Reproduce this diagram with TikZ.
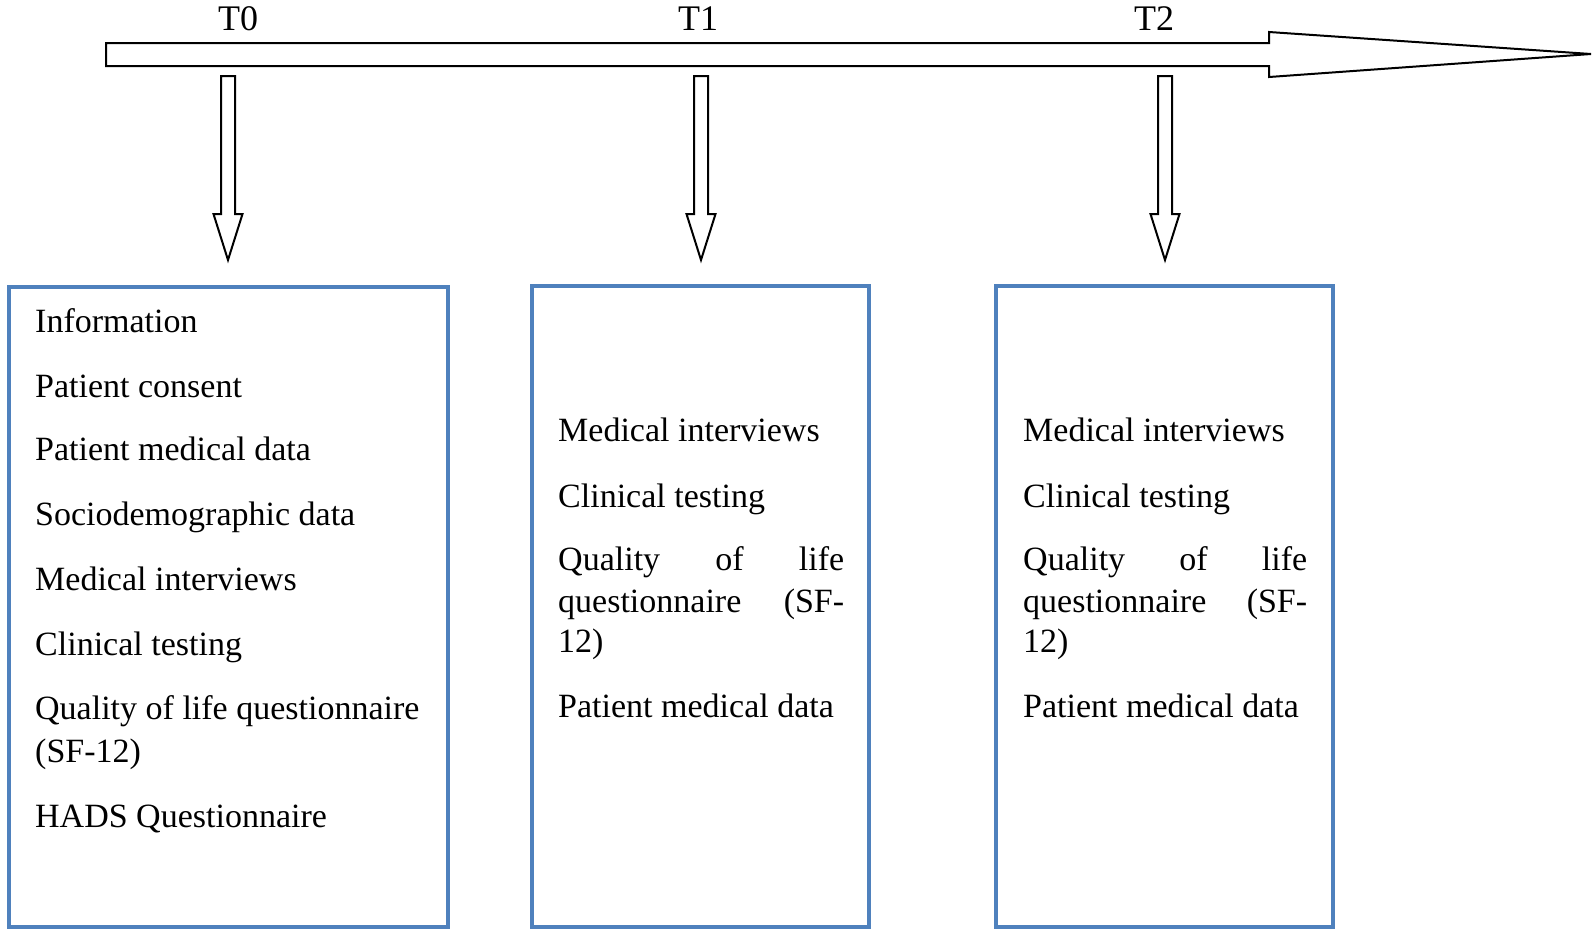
\documentclass[tikz,border=0pt]{standalone}
\usepackage{fontspec}
\setmainfont{Liberation Serif}
\definecolor{boxblue}{HTML}{4F81BD}
\begin{document}
\begin{tikzpicture}[x=1pt,y=-1pt,
  txt/.style={anchor=base west,inner sep=0pt,font=\fontsize{34}{40}\selectfont},
  tlabel/.style={anchor=base,inner sep=0pt,font=\fontsize{36}{40}\selectfont},
  blockarrow/.style={draw=black,line width=2pt,fill=white,line join=miter},
  stagebox/.style={draw=boxblue,line width=4pt}]
\useasboundingbox (0,0) rectangle (1594,935);
% main timeline arrow
\draw[blockarrow] (106,43) -- (1269,43) -- (1269,32) -- (1591,54) -- (1269,77) -- (1269,66) -- (106,66) -- cycle;
% labels
\node[tlabel] (t0) at (238,30) {T0};
\node[tlabel] (t1) at (698,30) {T1};
\node[tlabel] (t2) at (1154,30) {T2};
% down arrows
\foreach \c in {228,701,1165}{
  \draw[blockarrow] (\c-7,76) -- (\c+7,76) -- (\c+7,214) -- (\c+14.5,214) -- (\c,260) -- (\c-14.5,214) -- (\c-7,214) -- cycle;
}
% boxes
\draw[stagebox] (9,287) rectangle (448,927);
\draw[stagebox] (532,286) rectangle (869,927);
\draw[stagebox] (996,286) rectangle (1333,927);
% box 1 text
\node[txt] (a1) at (35,332) {Information};
\node[txt] (a2) at (35,397) {Patient consent};
\node[txt] (a3) at (35,460) {Patient medical data};
\node[txt] (a4) at (35,525) {Sociodemographic data};
\node[txt] (a5) at (35,590) {Medical interviews};
\node[txt] (a6) at (35,655) {Clinical testing};
\node[txt] (a7) at (35,719) {Quality of life questionnaire};
\node[txt] (a8) at (35,762) {(SF-12)};
\node[txt] (a9) at (35,827) {HADS Questionnaire};
% box 2 text
\node[txt] (b1) at (558,441) {Medical interviews};
\node[txt] (b2) at (558,507) {Clinical testing};
\node[txt] (b3) at (558,570) {\hbox to 286pt{Quality\hfill of\hfill life}};
\node[txt] (b4) at (558,612) {\hbox to 286pt{questionnaire\hfill (SF-}};
\node[txt] (b5) at (558,652) {12)};
\node[txt] (b6) at (558,717) {Patient medical data};
% box 3 text
\node[txt] (c1) at (1023,441) {Medical interviews};
\node[txt] (c2) at (1023,507) {Clinical testing};
\node[txt] (c3) at (1023,570) {\hbox to 284pt{Quality\hfill of\hfill life}};
\node[txt] (c4) at (1023,612) {\hbox to 284pt{questionnaire\hfill (SF-}};
\node[txt] (c5) at (1023,652) {12)};
\node[txt] (c6) at (1023,717) {Patient medical data};
\end{tikzpicture}
\end{document}
